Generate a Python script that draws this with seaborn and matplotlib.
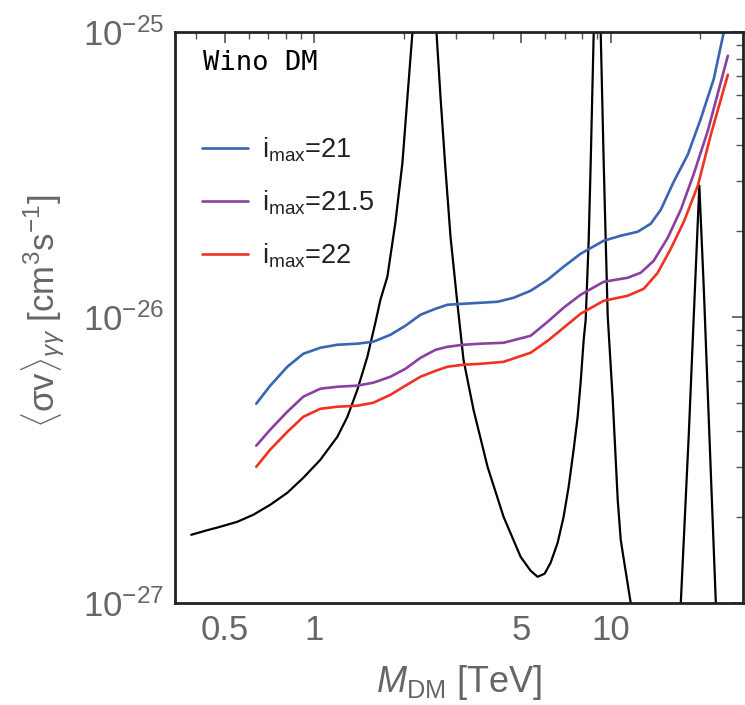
import numpy as np
import pandas as pd
import seaborn as sns
import matplotlib.pyplot as plt
from matplotlib.ticker import FixedLocator, NullFormatter, LogFormatterMathtext

# --- data (M_DM in TeV, <sigma v> in cm^3/s) ---
mass_imax21 = [0.637, 0.710, 0.811, 0.918, 1.048, 1.196, 1.397, 1.582, 1.806, 2.030,
               2.281, 2.564, 2.814, 3.187, 3.638, 4.152, 4.702, 5.367, 6.127, 6.937,
               7.917, 9.471, 10.81, 12.34, 13.65, 14.76, 16.32, 18.20, 20.14, 22.28,
               24.09]
sigv_imax21 = [4.98e-27, 5.76e-27, 6.71e-27, 7.45e-27, 7.82e-27, 8.01e-27, 8.08e-27, 8.21e-27, 8.68e-27, 9.34e-27,
               1.02e-26, 1.071e-26, 1.106e-26, 1.115e-26, 1.124e-26, 1.133e-26, 1.170e-26, 1.238e-26, 1.353e-26, 1.503e-26,
               1.669e-26, 1.854e-26, 1.930e-26, 1.993e-26, 2.126e-26, 2.380e-26, 2.984e-26, 3.71e-26, 4.96e-26, 6.84e-26,
               1.0e-25]

mass_imax215 = [0.637, 0.710, 0.811, 0.918, 1.048, 1.196, 1.397, 1.582, 1.806, 2.030,
                2.281, 2.564, 2.814, 3.187, 3.638, 4.350, 5.367, 6.127, 6.937, 7.917,
                9.471, 11.41, 12.63, 13.97, 15.58, 17.24, 19.07, 21.27, 24.85]
sigv_imax215 = [3.55e-27, 4.04e-27, 4.67e-27, 5.27e-27, 5.62e-27, 5.71e-27, 5.76e-27, 5.90e-27, 6.19e-27, 6.60e-27,
                7.21e-27, 7.69e-27, 7.88e-27, 8.01e-27, 8.08e-27, 8.14e-27, 8.61e-27, 9.64e-27, 1.080e-26, 1.199e-26,
                1.331e-26, 1.375e-26, 1.432e-26, 1.577e-26, 1.899e-26, 2.380e-26, 3.18e-26, 4.50e-26, 8.24e-26]

mass_imax22 = [0.637, 0.710, 0.811, 0.918, 1.048, 1.196, 1.397, 1.582, 1.806, 2.030,
               2.281, 2.564, 2.814, 3.187, 3.638, 4.350, 5.367, 6.127, 6.937, 7.917,
               9.471, 11.41, 12.93, 14.41, 15.95, 17.65, 19.68, 21.77, 24.85]
sigv_imax22 = [2.995e-27, 3.44e-27, 3.97e-27, 4.48e-27, 4.78e-27, 4.86e-27, 4.90e-27, 5.02e-27, 5.35e-27, 5.76e-27,
               6.19e-27, 6.49e-27, 6.71e-27, 6.82e-27, 6.87e-27, 6.98e-27, 7.51e-27, 8.27e-27, 9.19e-27, 1.029e-26,
               1.142e-26, 1.189e-26, 1.258e-26, 1.432e-26, 1.738e-26, 2.160e-26, 2.89e-26, 4.36e-26, 7.07e-26]

# wino prediction (Sommerfeld resonances run off the frame)
mass_wino = [0.3842, 0.4283, 0.4814, 0.5494, 0.6222, 0.710, 0.811, 0.918, 1.048, 1.196,
             1.293, 1.397, 1.510, 1.607, 1.671, 1.764, 1.877, 1.983, 2.062, 2.143,
             2.353, 2.584, 2.665, 2.771, 2.881, 3.042, 3.187, 3.445, 3.841, 4.350,
             4.966, 5.367, 5.667, 5.984, 6.271, 6.622, 6.937, 7.213, 7.499, 7.736,
             7.917, 8.107, 8.234, 8.429, 8.561, 8.763, 9.004, 9.253, 9.471, 9.619,
             9.770, 10.16, 10.56, 10.81, 10.98, 11.68, 12.5, 14.5, 16.5, 17.24,
             18.34, 19.07, 19.91, 20.62, 21.27, 22.63, 23.5]
sigv_wino = [1.730e-27, 1.787e-27, 1.846e-27, 1.921e-27, 2.033e-27, 2.204e-27, 2.428e-27, 2.740e-27, 3.168e-27, 3.814e-27,
             4.48e-27, 5.57e-27, 7.27e-27, 9.57e-27, 1.151e-26, 1.387e-26, 2.143e-26, 3.476e-26, 5.92e-26, 9.92e-26,
             4e-25, 9.92e-26, 5.92e-26, 3.29e-26, 1.914e-26, 1.106e-26, 7.10e-27, 4.74e-27, 2.995e-27, 2.001e-27,
             1.449e-27, 1.295e-27, 1.233e-27, 1.264e-27, 1.381e-27, 1.623e-27, 2.001e-27, 2.548e-27, 3.44e-27, 4.48e-27,
             5.90e-27, 8.34e-27, 9.80e-27, 1.868e-26, 3.476e-26, 9.92e-26, 4e-25, 9.92e-26, 3.476e-26, 1.868e-26,
             1.012e-26, 5.14e-27, 2.295e-27, 1.662e-27, 1.497e-27, 1.0e-27, 5e-28, 2.5e-28, 5e-28, 1.0e-27,
             3.876e-27, 1.012e-26, 2.89e-26, 1.248e-26, 5.35e-27, 1.0e-27, 3e-28]

labels = [r'i$_{\rm max}$=21', r'i$_{\rm max}$=21.5', r'i$_{\rm max}$=22']
colors = ['#3a64b4', '#8b3f9f', '#ee3322']
x_ticks = [0.5, 1, 5, 10]
x_ticklabels = ['0.5', '1', '5', '10']
y_ticks = [1e-27, 1e-26, 1e-25]

# long-form table for seaborn
limits_df = pd.concat([
    pd.DataFrame({'mass': m, 'sigv': s, 'label': lab})
    for m, s, lab in zip([mass_imax21, mass_imax215, mass_imax22],
                         [sigv_imax21, sigv_imax215, sigv_imax22], labels)
], ignore_index=True)

sns.set_style("white")
plt.rcParams['font.family'] = ['Liberation Sans', 'DejaVu Sans']
plt.rcParams['mathtext.fontset'] = 'custom'
plt.rcParams['mathtext.rm'] = 'Liberation Sans'
plt.rcParams['mathtext.it'] = 'Liberation Sans:italic'
plt.rcParams['mathtext.bf'] = 'Liberation Sans:bold'

fig, ax = plt.subplots(figsize=(7.45, 7.05), dpi=100)
fig.subplots_adjust(left=0.235, right=0.997, top=0.955, bottom=0.145)

ax.set_xscale('log')
ax.set_yscale('log')

sns.lineplot(x=mass_wino, y=sigv_wino, sort=False, estimator=None,
             color='black', linewidth=1.6, ax=ax)
sns.lineplot(data=limits_df, x='mass', y='sigv', hue='label', hue_order=labels,
             palette=colors, sort=False, estimator=None, linewidth=1.9, ax=ax)

ax.set_xlim(0.339, 27.9)
ax.set_ylim(1e-27, 1e-25)

# ticks: frame style, inward on all sides
ax.xaxis.set_major_locator(FixedLocator(x_ticks))
ax.set_xticklabels(x_ticklabels)
ax.xaxis.set_minor_locator(FixedLocator([0.4, 0.6, 0.7, 0.8, 0.9, 2, 3, 4, 6, 7, 8, 9, 20]))
ax.xaxis.set_minor_formatter(NullFormatter())
ax.yaxis.set_major_locator(FixedLocator(y_ticks))
ax.yaxis.set_major_formatter(LogFormatterMathtext())
y_minor = [m * d for d in [1e-27, 1e-26] for m in range(2, 10)]
ax.yaxis.set_minor_locator(FixedLocator(y_minor))
ax.yaxis.set_minor_formatter(NullFormatter())
ax.tick_params(which='both', direction='in', top=True, right=True, color='#555555')
ax.tick_params(which='major', length=8, width=1.2, labelsize=25, labelcolor='#666666', pad=8)
ax.tick_params(which='minor', length=5, width=1.0)

for side in ['left', 'bottom', 'top', 'right']:
    ax.spines[side].set_linewidth(2.0)
    ax.spines[side].set_color('#222222')

ax.set_xlabel(r'$M_{\rm DM}$ [TeV]', fontsize=26, color='#666666', va='top')
ax.xaxis.set_label_coords(0.5, -0.105)
ax.set_ylabel(r'$\langle\mathrm{\sigma v}\rangle_{\gamma\gamma}$ [cm$^3$s$^{-1}$]',
              fontsize=25, color='#666666')
ax.yaxis.set_label_coords(-0.19, 0.51)

ax.text(0.049, 0.946, 'Wino DM', transform=ax.transAxes, fontsize=19.5,
        family='DejaVu Sans Mono', va='center', ha='left', color='black')

handles, labs = ax.get_legend_handles_labels()
keep = [i for i, l in enumerate(labs) if l in labels]
ax.legend([handles[i] for i in keep], [labs[i] for i in keep],
          loc='upper left', bbox_to_anchor=(0.047, 0.819), frameon=False,
          fontsize=19.5, handlelength=1.7, handletextpad=0.52, labelspacing=0.92,
          borderpad=0, borderaxespad=0, labelcolor='#222222')

fig.savefig('out.png', dpi=100)
